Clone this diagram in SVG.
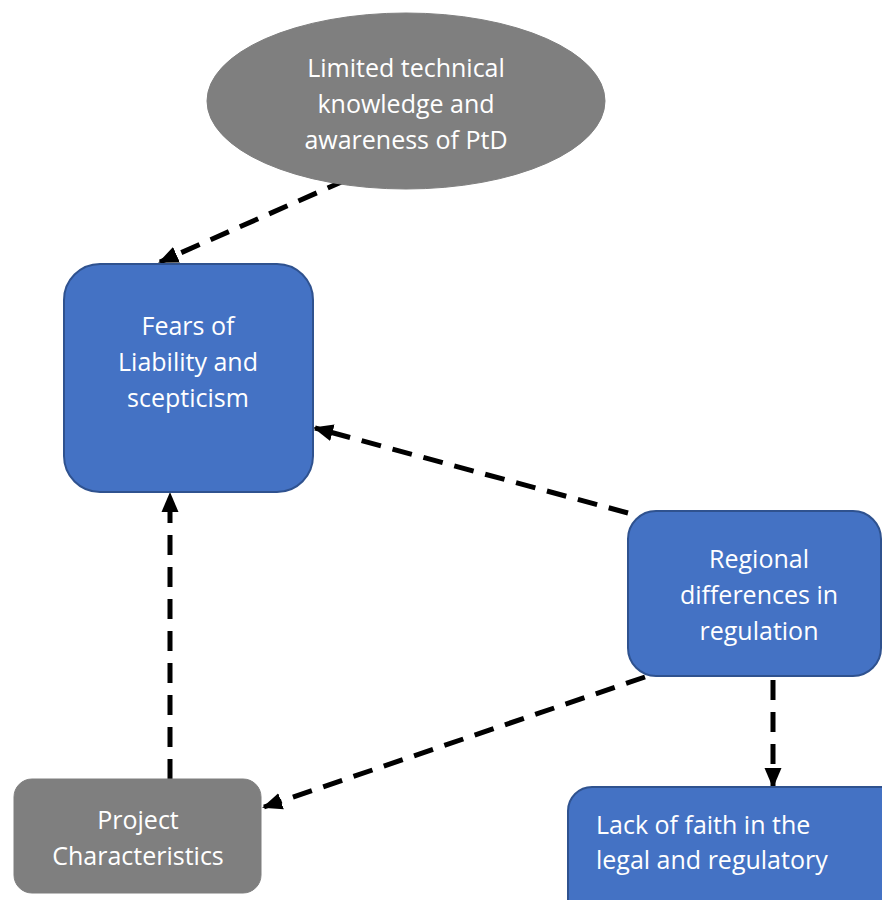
<svg xmlns="http://www.w3.org/2000/svg" width="882" height="900" viewBox="0 0 882 900">
<style>
.blue{fill:#4472c4;stroke:#2f528f;stroke-width:2}
.grey{fill:#7f7f7f;stroke:#7f7f7f;stroke-width:1}
.t{font-family:"Open Sans","Liberation Sans",sans-serif;font-size:25px;fill:#ffffff;text-anchor:middle}
.tl{font-family:"Open Sans","Liberation Sans",sans-serif;font-size:25px;fill:#ffffff}
.c{stroke:#000;stroke-width:5;stroke-dasharray:20 12;fill:none;marker-end:url(#ah)}
</style>
<defs>
<marker id="ah" markerWidth="4" markerHeight="4" refX="3.6" refY="2" orient="auto" markerUnits="strokeWidth">
<path d="M0,0.3 L4,2 L0,3.7 Z" fill="#000"/>
</marker>
</defs>
<rect width="882" height="900" fill="#fff"/>
<g id="connectors">
<line class="c" x1="346" y1="180" x2="160" y2="262"/>
<line class="c" x1="628" y1="513" x2="315" y2="428"/>
<line class="c" x1="645" y1="677" x2="264" y2="807"/>
<line class="c" x1="773" y1="680" x2="773" y2="786"/>
<line class="c" x1="170" y1="779" x2="170" y2="494"/>
</g>
<g id="limited">
<ellipse class="grey" cx="406" cy="101" rx="199" ry="88"/>
<text class="t" x="406" y="77">Limited technical</text>
<text class="t" x="406" y="113">knowledge and</text>
<text class="t" x="406" y="149">awareness of PtD</text>
</g>
<g id="fears">
<rect class="blue" x="64" y="264" width="249" height="228" rx="36"/>
<text class="t" x="188" y="335">Fears of</text>
<text class="t" x="188" y="371">Liability and</text>
<text class="t" x="188" y="407">scepticism</text>
</g>
<g id="regional">
<rect class="blue" x="628" y="511" width="253" height="165" rx="28"/>
<text class="t" x="759" y="568">Regional</text>
<text class="t" x="759" y="604">differences in</text>
<text class="t" x="759" y="640">regulation</text>
</g>
<g id="lack">
<rect class="blue" x="568" y="787" width="340" height="150" rx="24"/>
<text class="tl" x="596" y="834">Lack of faith in the</text>
<text class="tl" x="596" y="869">legal and regulatory</text>
</g>
<g id="project">
<rect class="grey" x="14" y="779" width="247" height="114" rx="18"/>
<text class="t" x="138" y="829">Project</text>
<text class="t" x="138" y="865">Characteristics</text>
</g>
</svg>
